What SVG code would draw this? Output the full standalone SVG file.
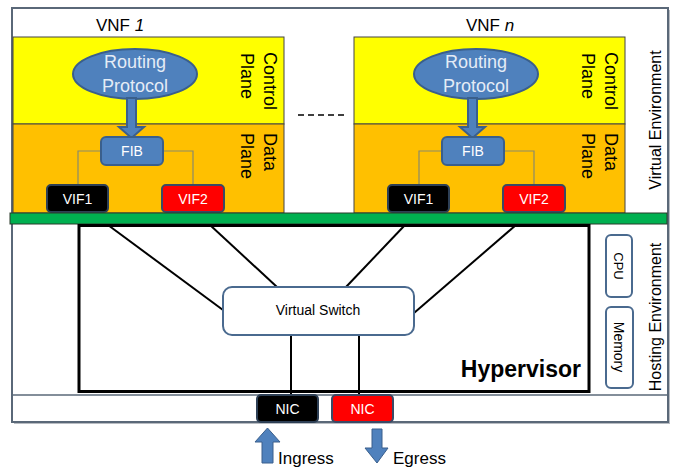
<svg xmlns="http://www.w3.org/2000/svg" width="673" height="470" viewBox="0 0 673 470">
<defs>
<style>
text{font-family:"Liberation Sans",Arial,sans-serif;fill:#000}
.blue{fill:#4f81bd;stroke:#3a5f8c;stroke-width:2}
.wt{fill:#ffffff;font-size:14px;text-anchor:middle}
.lbl{font-size:18px}
.tree{fill:none;stroke:#8a8a6a;stroke-width:1.2}
.conn{fill:none;stroke:#000;stroke-width:2}
.box{fill:#fff;stroke:#4a6a8f;stroke-width:2}
</style>
</defs>
<rect width="673" height="470" fill="#fff"/>
<!-- frame -->
<g id="frame">
<rect x="14" y="10" width="656" height="414" fill="#b8bcc2"/>
<rect x="12" y="8" width="656" height="414" fill="#fff" stroke="#5a6878" stroke-width="2"/>
<line x1="12" y1="395" x2="668" y2="395" stroke="#5a6878" stroke-width="1.5"/>
</g>
<!-- VNF 1 -->
<g id="vnf1">
<rect x="13" y="37" width="271" height="87" fill="#ffff00" stroke="#444" stroke-width="1"/>
<rect x="13" y="124" width="271" height="89" fill="#ffc000" stroke="#444" stroke-width="1"/>
<text x="96" y="31" font-size="17">VNF  <tspan font-style="italic">1</tspan></text>
<text transform="translate(264,52) rotate(90)" class="lbl">Control</text>
<text transform="translate(241,53) rotate(90)" class="lbl">Plane</text>
<text transform="translate(264,133) rotate(90)" class="lbl">Data</text>
<text transform="translate(241,133) rotate(90)" class="lbl">Plane</text>
<ellipse cx="135" cy="74" rx="62" ry="25" class="blue"/>
<text x="135" y="68" font-size="18" fill="#e4ecf6" text-anchor="middle" style="fill:#e4ecf6">Routing</text>
<text x="135" y="92" font-size="18" text-anchor="middle" style="fill:#e4ecf6">Protocol</text>
<path d="M127,98 L136,98 L136,127 L144,127 L131.5,138 L119,127 L127,127 Z" class="blue"/>
<polyline points="101,151 78,151 78,185" class="tree"/>
<polyline points="163,151 193,151 193,185" class="tree"/>
<rect x="101" y="137" width="62" height="28" rx="5" class="blue"/>
<text x="132" y="156" class="wt">FIB</text>
<rect x="47" y="185" width="61" height="27" rx="4" fill="#000" stroke="#2d3f55" stroke-width="2"/>
<text x="77.5" y="204" class="wt">VIF1</text>
<rect x="162" y="185" width="62" height="27" rx="4" fill="#ff0000" stroke="#3a4a66" stroke-width="2"/>
<text x="193" y="204" class="wt">VIF2</text>
</g>
<!-- VNF n -->
<g id="vnfn">
<rect x="354" y="37" width="271" height="87" fill="#ffff00" stroke="#444" stroke-width="1"/>
<rect x="354" y="124" width="271" height="89" fill="#ffc000" stroke="#444" stroke-width="1"/>
<text x="466" y="31" font-size="17">VNF <tspan font-style="italic">n</tspan></text>
<text transform="translate(605,52) rotate(90)" class="lbl">Control</text>
<text transform="translate(582,53) rotate(90)" class="lbl">Plane</text>
<text transform="translate(605,133) rotate(90)" class="lbl">Data</text>
<text transform="translate(582,133) rotate(90)" class="lbl">Plane</text>
<ellipse cx="476" cy="74" rx="62" ry="25" class="blue"/>
<text x="476" y="68" font-size="18" text-anchor="middle" style="fill:#e4ecf6">Routing</text>
<text x="476" y="92" font-size="18" text-anchor="middle" style="fill:#e4ecf6">Protocol</text>
<path d="M468,98 L477,98 L477,127 L485,127 L472.5,138 L460,127 L468,127 Z" class="blue"/>
<polyline points="442,151 419,151 419,185" class="tree"/>
<polyline points="504,151 534,151 534,185" class="tree"/>
<rect x="442" y="137" width="62" height="28" rx="5" class="blue"/>
<text x="473" y="156" class="wt">FIB</text>
<rect x="388" y="185" width="61" height="27" rx="4" fill="#000" stroke="#2d3f55" stroke-width="2"/>
<text x="418.5" y="204" class="wt">VIF1</text>
<rect x="503" y="185" width="62" height="27" rx="4" fill="#ff0000" stroke="#3a4a66" stroke-width="2"/>
<text x="534" y="204" class="wt">VIF2</text>
</g>
<line x1="298" y1="115" x2="346" y2="115" stroke="#000" stroke-width="1.5" stroke-dasharray="6,4"/>
<!-- labels right -->
<text transform="translate(661,120) rotate(-90)" font-size="16" text-anchor="middle">Virtual  Environment</text>
<text transform="translate(661,317) rotate(-90)" font-size="16" text-anchor="middle">Hosting Environment</text>
<!-- green bar -->
<g id="bus">
<rect x="10" y="213" width="657" height="11" fill="#00b050" stroke="#2a3a2a" stroke-width="1"/>
</g>
<!-- hypervisor -->
<g id="hypervisor">
<rect x="79" y="225.5" width="510" height="166" fill="none" stroke="#000" stroke-width="3"/>
<text x="581" y="377" font-size="23" font-weight="bold" text-anchor="end">Hypervisor</text>
</g>
<g id="connectors">
<line x1="108" y1="225" x2="223" y2="310" class="conn"/>
<line x1="210" y1="225" x2="277" y2="287" class="conn"/>
<line x1="405" y1="225" x2="346" y2="287" class="conn"/>
<line x1="516" y1="225" x2="414" y2="313" class="conn"/>
<line x1="291" y1="335" x2="291" y2="395" class="conn"/>
<line x1="359" y1="335" x2="359" y2="395" class="conn"/>
</g>
<g id="vswitch">
<rect x="223" y="287" width="191" height="48" rx="9" class="box"/>
<text x="318" y="315" font-size="14" text-anchor="middle">Virtual Switch</text>
</g>
<g id="cpu">
<rect x="606" y="235" width="26" height="62" rx="5" class="box"/>
<text transform="translate(614,266) rotate(90)" font-size="13" text-anchor="middle">CPU</text>
</g>
<g id="memory">
<rect x="606" y="307" width="27" height="81" rx="5" class="box"/>
<text transform="translate(614,347) rotate(90)" font-size="14" text-anchor="middle">Memory</text>
</g>
<g id="nic1">
<rect x="257" y="395" width="61" height="27" rx="4" fill="#000" stroke="#2d3f55" stroke-width="2"/>
<text x="287.5" y="414" class="wt">NIC</text>
</g>
<g id="nic2">
<rect x="332" y="395" width="61" height="27" rx="4" fill="#ff0000" stroke="#3a4a66" stroke-width="2"/>
<text x="362.5" y="414" class="wt">NIC</text>
</g>
<g id="ingress">
<path d="M262,463 L262,442 L255,442 L267.5,428 L280,442 L273,442 L273,463 Z" class="blue" style="stroke-width:1"/>
<text x="278" y="464" font-size="17">Ingress</text>
</g>
<g id="egress">
<path d="M372,429 L382,429 L382,448 L388,448 L377,463 L365,448 L372,448 Z" class="blue" style="stroke-width:1"/>
<text x="393" y="464" font-size="17">Egress</text>
</g>
</svg>
